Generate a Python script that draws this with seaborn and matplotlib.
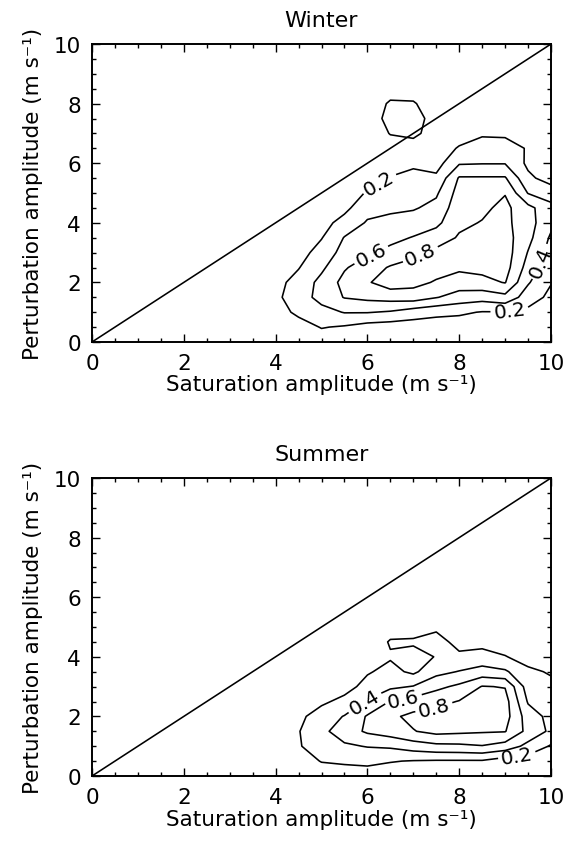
import numpy as np
import matplotlib
matplotlib.use("Agg")
import matplotlib.pyplot as plt
import seaborn as sns

# ---------------- data ----------------
# grid of saturation (x) and perturbation (y) amplitudes, m s^-1
sat_grid = np.arange(0.0, 10.01, 0.5)
pert_grid = np.arange(0.0, 10.01, 0.5)

# non-zero block: columns sat = 4.0 ... 10.0, rows pert = 0.0 ... 8.5
block_sat = np.arange(4.0, 10.01, 0.5)
block_pert = np.arange(0.0, 8.51, 0.5)

winter_block = [
    [0.04, 0.05, 0.10, 0.12, 0.08, 0.08, 0.06, 0.06, 0.05, 0.05, 0.05, 0.04, 0.03],
    [0.08, 0.12, 0.21, 0.18, 0.12, 0.10, 0.10, 0.10, 0.10, 0.10, 0.10, 0.08, 0.06],
    [0.12, 0.24, 0.33, 0.41, 0.41, 0.38, 0.30, 0.25, 0.23, 0.19, 0.19, 0.15, 0.10],
    [0.16, 0.30, 0.47, 0.61, 0.65, 0.68, 0.70, 0.61, 0.52, 0.48, 0.54, 0.30, 0.15],
    [0.14, 0.27, 0.46, 0.66, 0.78, 0.90, 0.86, 0.78, 0.70, 0.74, 0.81, 0.42, 0.21],
    [0.10, 0.19, 0.36, 0.58, 0.70, 0.82, 0.86, 0.88, 0.84, 0.86, 0.88, 0.52, 0.27],
    [0.06, 0.12, 0.28, 0.47, 0.57, 0.65, 0.76, 0.85, 0.90, 0.92, 0.90, 0.59, 0.32],
    [0.03, 0.07, 0.19, 0.41, 0.50, 0.55, 0.61, 0.70, 0.82, 0.88, 0.88, 0.66, 0.37],
    [0.00, 0.04, 0.13, 0.27, 0.42, 0.46, 0.50, 0.55, 0.76, 0.81, 0.85, 0.68, 0.45],
    [0.00, 0.00, 0.08, 0.15, 0.33, 0.36, 0.38, 0.46, 0.72, 0.76, 0.85, 0.66, 0.46],
    [0.00, 0.00, 0.04, 0.08, 0.22, 0.28, 0.32, 0.37, 0.68, 0.70, 0.79, 0.39, 0.30],
    [0.00, 0.00, 0.00, 0.04, 0.12, 0.21, 0.25, 0.24, 0.62, 0.62, 0.62, 0.24, 0.12],
    [0.00, 0.00, 0.00, 0.00, 0.06, 0.12, 0.17, 0.12, 0.38, 0.39, 0.39, 0.16, 0.08],
    [0.00, 0.00, 0.00, 0.00, 0.04, 0.10, 0.12, 0.08, 0.22, 0.30, 0.30, 0.18, 0.05],
    [0.00, 0.00, 0.00, 0.00, 0.06, 0.21, 0.24, 0.12, 0.10, 0.17, 0.16, 0.10, 0.02],
    [0.00, 0.00, 0.00, 0.00, 0.08, 0.27, 0.28, 0.12, 0.05, 0.08, 0.06, 0.04, 0.00],
    [0.00, 0.00, 0.00, 0.00, 0.06, 0.23, 0.22, 0.08, 0.02, 0.03, 0.02, 0.00, 0.00],
    [0.00, 0.00, 0.00, 0.00, 0.00, 0.10, 0.10, 0.04, 0.00, 0.00, 0.00, 0.00, 0.00],
]

summer_block = [
    [0.00, 0.04, 0.08, 0.10, 0.10, 0.10, 0.08, 0.10, 0.10, 0.10, 0.08, 0.05, 0.03],
    [0.05, 0.10, 0.21, 0.23, 0.25, 0.21, 0.19, 0.18, 0.18, 0.18, 0.10, 0.10, 0.07],
    [0.08, 0.18, 0.32, 0.37, 0.41, 0.43, 0.50, 0.55, 0.56, 0.59, 0.52, 0.34, 0.18],
    [0.10, 0.19, 0.35, 0.50, 0.63, 0.70, 0.79, 0.86, 0.84, 0.82, 0.81, 0.54, 0.36],
    [0.07, 0.15, 0.30, 0.41, 0.62, 0.76, 0.85, 0.88, 0.87, 0.90, 0.88, 0.50, 0.34],
    [0.00, 0.08, 0.16, 0.26, 0.42, 0.61, 0.68, 0.74, 0.81, 0.92, 0.88, 0.38, 0.29],
    [0.00, 0.03, 0.08, 0.12, 0.27, 0.36, 0.41, 0.55, 0.64, 0.81, 0.79, 0.30, 0.25],
    [0.00, 0.00, 0.03, 0.05, 0.18, 0.26, 0.16, 0.34, 0.41, 0.48, 0.43, 0.24, 0.18],
    [0.00, 0.00, 0.00, 0.00, 0.10, 0.18, 0.12, 0.21, 0.23, 0.27, 0.21, 0.12, 0.08],
    [0.00, 0.00, 0.00, 0.00, 0.05, 0.22, 0.23, 0.26, 0.15, 0.14, 0.10, 0.05, 0.03],
    [0.00, 0.00, 0.00, 0.00, 0.00, 0.10, 0.10, 0.17, 0.05, 0.04, 0.03, 0.00, 0.00],
    [0.00, 0.00, 0.00, 0.00, 0.00, 0.04, 0.03, 0.05, 0.00, 0.00, 0.00, 0.00, 0.00],
    [0.00] * 13, [0.00] * 13, [0.00] * 13, [0.00] * 13, [0.00] * 13, [0.00] * 13,
]

contour_levels = [0.2, 0.4, 0.6, 0.8]
axis_ticks = [0, 2, 4, 6, 8, 10]
one_to_one = [0, 10]
titles = ["Winter", "Summer"]

# label anchor points (near which each contour label is placed)
winter_label_pts = [(6.25, 5.35), (9.1, 1.0), (6.1, 2.85), (7.15, 2.95), (9.75, 2.7)]
summer_label_pts = [(5.93, 2.5), (6.78, 2.6), (7.45, 2.3), (9.25, 0.8)]

# ---------------- figure ----------------
sns.set_theme(style="ticks")
plt.rcParams["font.family"] = ["DejaVu Sans"]
plt.rcParams["axes.linewidth"] = 1.4

fig = plt.figure(figsize=(5.66, 8.45), dpi=100)
ax_pos = [[92 / 566, 1 - 343 / 845, 459 / 566, 298 / 845],
          [92 / 566, 1 - 777 / 845, 459 / 566, 298 / 845]]


def full_field(block):
    field = np.zeros((len(pert_grid), len(sat_grid)))
    i0 = int(np.argmin(np.abs(sat_grid - block_sat[0])))
    arr = np.asarray(block)
    field[: arr.shape[0], i0: i0 + arr.shape[1]] = arr
    return field


FS = 15.5
for k, (block, label_pts) in enumerate([(winter_block, winter_label_pts),
                                        (summer_block, summer_label_pts)]):
    ax = fig.add_axes(ax_pos[k])
    Z = full_field(block)
    X, Y = np.meshgrid(sat_grid, pert_grid)
    cs = ax.contour(X, Y, Z, levels=contour_levels, colors="black", linewidths=1.15)
    ax.clabel(cs, fmt="%.1f", fontsize=FS - 1, inline=True, inline_spacing=3,
              manual=label_pts, colors="black")
    sns.lineplot(x=one_to_one, y=one_to_one, ax=ax, color="black", linewidth=1.15)

    ax.set_xlim(0, 10)
    ax.set_ylim(0, 10)
    ax.set_xticks(axis_ticks)
    ax.set_yticks(axis_ticks)
    ax.set_xticks(np.arange(0, 10.01, 0.5), minor=True)
    ax.set_yticks(np.arange(0, 10.01, 0.5), minor=True)
    ax.tick_params(which="both", direction="in", top=True, right=True,
                   colors="black", labelsize=FS, width=1.0)
    ax.tick_params(which="major", length=5.5, pad=8)
    ax.tick_params(which="minor", length=3)
    for s in ax.spines.values():
        s.set_visible(True)
        s.set_color("black")
    ax.set_title(titles[k], fontsize=FS + 0.5, pad=13, color="black")
    ax.set_xlabel("Saturation amplitude (m s\u207b\u00b9)", fontsize=FS, labelpad=1,
                  color="black")
    ax.set_ylabel("Perturbation amplitude (m s\u207b\u00b9)", fontsize=FS, labelpad=8,
                  color="black")

fig.savefig("out.png", dpi=100, facecolor="white")
